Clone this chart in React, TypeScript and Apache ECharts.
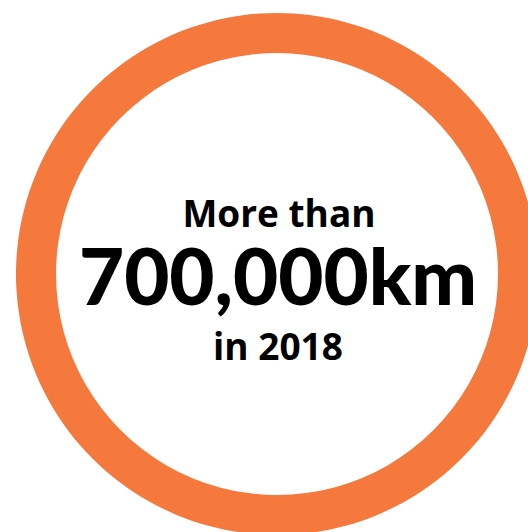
import React, { useEffect, useRef } from "react";
import * as echarts from "echarts";

const headline = "More than";
const bigValue = "700,000km";
const yearLine = "in 2018";
const ringValues = [700000];
const ringColor = "#f5783c";

export default function App() {
  const ref = useRef<HTMLDivElement>(null);
  useEffect(() => {
    document.body.style.margin = "0";
    const chart = echarts.init(ref.current!, null, { renderer: "svg" });
    const smallFont = "'Open Sans', Lato, sans-serif";
    const bigFont = "Lato, 'Open Sans', sans-serif";
    chart.setOption({
      animation: false,
      backgroundColor: "#ffffff",
      series: [
        {
          type: "pie",
          center: [277, 274],
          radius: [221, 261],
          silent: true,
          label: { show: false },
          labelLine: { show: false },
          itemStyle: { color: ringColor },
          data: ringValues.map((v) => ({ value: v, name: bigValue })),
        },
      ],
      graphic: [
        {
          type: "text",
          x: 279,
          y: 212,
          style: {
            text: headline,
            font: `bold 37px ${smallFont}`,
            lineHeight: 30,
            fill: "#000",
            align: "center",
            verticalAlign: "middle",
          },
        },
        {
          type: "text",
          x: 278,
          y: 275,
          style: {
            text: bigValue,
            font: `900 78px ${bigFont}`,
            lineHeight: 60,
            fill: "#000",
            align: "center",
            verticalAlign: "middle",
          },
        },
        {
          type: "text",
          x: 278,
          y: 345,
          style: {
            text: yearLine,
            font: `bold 37px ${smallFont}`,
            lineHeight: 30,
            fill: "#000",
            align: "center",
            verticalAlign: "middle",
          },
        },
      ],
    });
    return () => chart.dispose();
  }, []);
  return (
    <div
      ref={ref}
      style={{ position: "fixed", left: 0, top: 0, width: 528, height: 532 }}
    />
  );
}
